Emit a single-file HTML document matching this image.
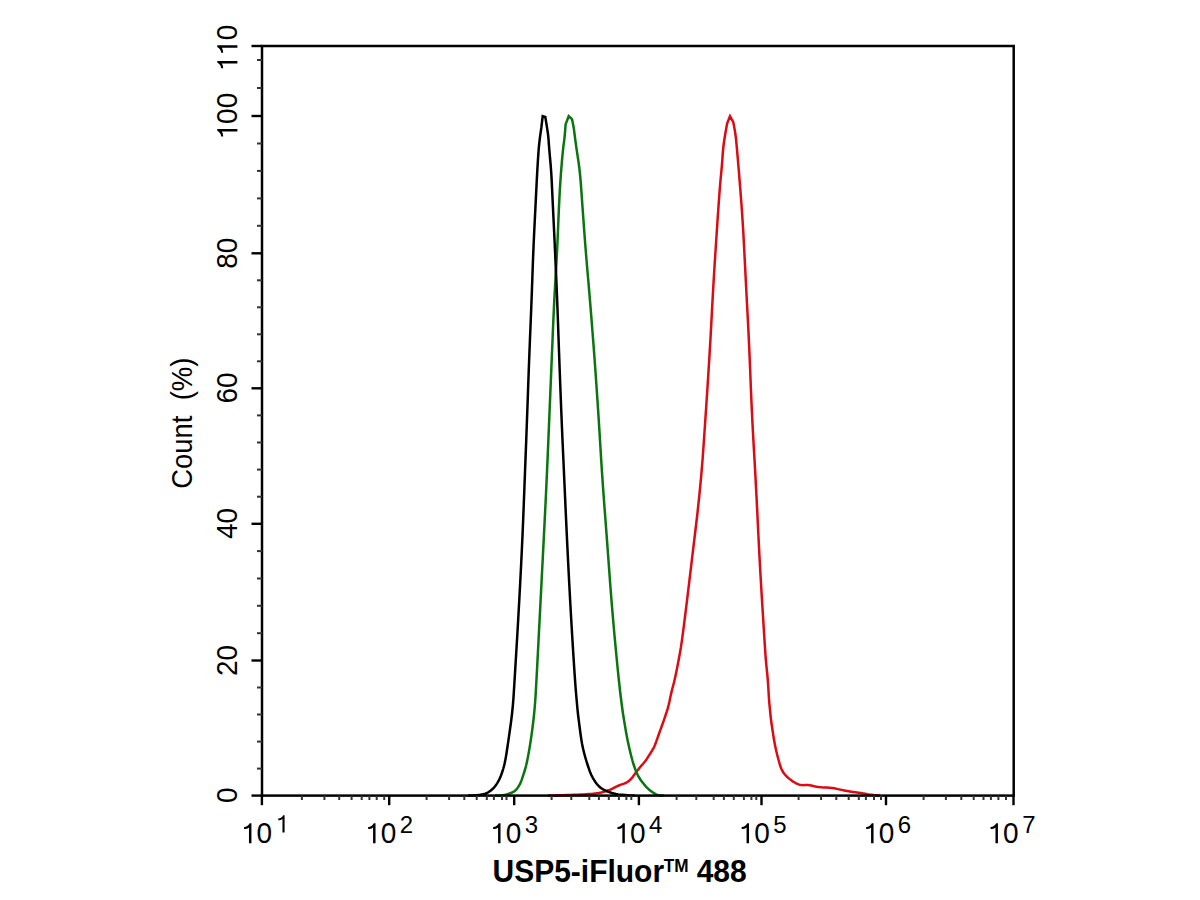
<!DOCTYPE html>
<html><head><meta charset="utf-8"><title>Flow cytometry histogram</title>
<style>html,body{margin:0;padding:0;background:#fff;width:1200px;height:900px;overflow:hidden;}svg{display:block;font-family:"Liberation Sans",sans-serif;}</style>
</head><body>
<svg width="1200" height="900" viewBox="0 0 1200 900" font-family="Liberation Sans, sans-serif" fill="#000"><path d="M548.00 795.60 L549.06 795.58 L551.19 795.52 L554.38 795.45 L558.62 795.35 L562.75 795.24 L566.75 795.11 L570.62 794.98 L574.38 794.83 L577.81 794.68 L580.94 794.54 L583.75 794.41 L586.25 794.29 L588.75 794.12 L591.25 793.91 L593.75 793.65 L596.25 793.35 L598.75 792.94 L601.25 792.41 L603.75 791.77 L606.25 791.02 L608.44 790.30 L610.31 789.60 L611.88 788.92 L613.12 788.27 L614.39 787.63 L615.66 786.99 L616.95 786.36 L618.25 785.74 L619.61 785.15 L621.04 784.60 L622.52 784.09 L624.07 783.61 L625.53 783.01 L626.89 782.29 L628.16 781.44 L629.34 780.46 L630.51 779.34 L631.69 778.08 L632.86 776.68 L634.04 775.12 L635.19 773.60 L636.31 772.10 L637.41 770.62 L638.49 769.18 L639.51 767.86 L640.47 766.69 L641.38 765.65 L642.22 764.75 L643.07 763.80 L643.91 762.80 L644.74 761.75 L645.56 760.65 L646.47 759.36 L647.47 757.87 L648.56 756.19 L649.74 754.31 L650.81 752.61 L651.77 751.07 L652.62 749.70 L653.38 748.50 L654.23 746.76 L655.17 744.49 L656.22 741.67 L657.38 738.33 L658.54 734.98 L659.73 731.64 L660.94 728.31 L662.16 724.99 L663.36 721.66 L664.52 718.34 L665.65 715.01 L666.75 711.69 L667.74 708.36 L668.63 705.02 L669.41 701.67 L670.09 698.33 L670.82 694.98 L671.61 691.64 L672.45 688.31 L673.35 684.99 L674.28 681.24 L675.23 677.08 L676.20 672.50 L677.20 667.50 L678.17 662.50 L679.11 657.50 L680.01 652.50 L680.89 647.50 L682.11 639.06 L683.69 627.19 L685.61 611.88 L687.89 593.12 L690.19 574.06 L692.51 554.69 L694.86 535.00 L697.24 515.00 L699.32 495.62 L701.12 476.88 L702.64 458.75 L703.86 441.25 L705.06 423.75 L706.24 406.25 L707.39 388.75 L708.51 371.25 L709.55 354.38 L710.50 338.12 L711.36 322.50 L712.14 307.50 L712.96 292.50 L713.84 277.50 L714.76 262.50 L715.74 247.50 L716.64 233.75 L717.48 221.25 L718.25 210.00 L718.95 200.00 L719.60 191.25 L720.20 183.75 L720.75 177.50 L721.25 172.50 L721.69 167.69 L722.08 163.06 L722.41 158.62 L722.69 154.38 L723.02 150.36 L723.41 146.57 L723.85 143.01 L724.35 139.69 L724.85 136.50 L725.35 133.45 L725.85 130.54 L726.35 127.76 L726.73 125.68 L726.98 124.29 L727.10 123.60 L727.10 123.60 L727.10 123.60 L727.10 123.60 L727.10 123.60 L730.00 116.20 L733.30 122.20 L733.44 122.98 L733.73 124.54 L734.16 126.89 L734.74 130.01 L735.25 133.19 L735.70 136.41 L736.09 139.69 L736.41 143.01 L736.85 147.82 L737.40 154.11 L738.06 161.88 L738.84 171.12 L739.61 180.56 L740.37 190.19 L741.12 200.00 L741.88 210.00 L742.62 221.25 L743.38 233.75 L744.12 247.50 L744.88 262.50 L745.64 277.50 L746.41 292.50 L747.20 307.50 L748.00 322.50 L748.77 338.12 L749.51 354.38 L750.21 371.25 L750.89 388.75 L751.65 406.25 L752.50 423.75 L753.44 441.25 L754.46 458.75 L755.47 476.88 L756.46 495.62 L757.43 515.00 L758.38 535.00 L759.40 555.00 L760.50 575.00 L761.67 595.00 L762.92 615.00 L763.92 630.94 L764.67 642.81 L765.17 650.62 L765.42 654.38 L765.74 658.44 L766.13 662.81 L766.59 667.50 L767.11 672.50 L767.58 677.50 L767.97 682.50 L768.31 687.50 L768.59 692.50 L768.86 696.88 L769.12 700.62 L769.38 703.75 L769.62 706.25 L769.88 708.75 L770.12 711.25 L770.38 713.75 L770.62 716.25 L770.91 718.75 L771.22 721.25 L771.56 723.75 L771.94 726.25 L772.31 728.75 L772.69 731.25 L773.06 733.75 L773.44 736.25 L773.84 738.75 L774.28 741.25 L774.75 743.75 L775.25 746.25 L775.78 748.75 L776.34 751.25 L776.94 753.75 L777.56 756.25 L778.22 758.75 L778.91 761.25 L779.62 763.75 L780.38 766.25 L781.22 768.50 L782.16 770.50 L783.19 772.25 L784.31 773.75 L785.53 775.19 L786.84 776.56 L788.25 777.88 L789.75 779.12 L791.25 780.28 L792.75 781.34 L794.25 782.31 L795.75 783.19 L797.19 783.89 L798.56 784.43 L799.88 784.80 L801.12 785.00 L802.36 785.12 L803.59 785.16 L804.80 785.11 L806.00 784.99 L807.65 785.06 L809.75 785.32 L812.30 785.77 L815.30 786.42 L818.25 786.92 L821.15 787.27 L824.00 787.48 L826.80 787.52 L829.46 787.69 L831.99 787.96 L834.38 788.35 L836.62 788.85 L839.02 789.36 L841.56 789.89 L844.24 790.43 L847.06 790.97 L849.88 791.48 L852.69 791.94 L855.50 792.36 L858.30 792.74 L860.87 793.11 L863.21 793.47 L865.31 793.83 L867.19 794.17 L869.22 794.49 L871.41 794.78 L873.75 795.04 L876.25 795.26 L878.12 795.43 L879.38 795.54 L880.00 795.60" fill="none" stroke="#dc0a12" stroke-width="2.50" stroke-linejoin="miter"/><path d="M495.00 795.60 L495.31 795.59 L495.94 795.56 L496.88 795.52 L498.12 795.48 L499.43 795.39 L500.77 795.28 L502.17 795.14 L503.63 794.96 L505.08 794.71 L506.54 794.39 L508.01 793.99 L509.49 793.51 L510.84 793.01 L512.06 792.49 L513.16 791.94 L514.14 791.36 L515.04 790.71 L515.86 789.99 L516.61 789.19 L517.29 788.31 L517.96 787.34 L518.64 786.28 L519.31 785.12 L519.99 783.88 L520.64 782.50 L521.26 781.00 L521.86 779.38 L522.44 777.62 L523.07 775.69 L523.76 773.56 L524.50 771.25 L525.30 768.75 L526.18 765.31 L527.14 760.94 L528.19 755.62 L529.31 749.38 L530.39 742.81 L531.41 735.94 L532.39 728.75 L533.31 721.25 L534.12 713.75 L534.81 706.25 L535.38 698.75 L535.83 691.25 L536.39 681.25 L537.06 668.75 L537.85 653.75 L538.75 636.25 L539.65 618.75 L540.55 601.25 L541.45 583.75 L542.35 566.25 L543.21 549.38 L544.04 533.12 L544.83 517.50 L545.58 502.50 L546.29 487.50 L546.98 472.50 L547.64 457.50 L548.26 442.50 L548.89 427.50 L549.51 412.50 L550.14 397.50 L550.76 382.50 L551.39 367.50 L552.01 352.50 L552.64 337.50 L553.26 322.50 L553.92 308.12 L554.61 294.38 L555.33 281.25 L556.08 268.75 L556.76 256.25 L557.39 243.75 L557.95 231.25 L558.45 218.75 L558.94 207.61 L559.41 197.82 L559.88 189.39 L560.33 182.31 L560.79 175.52 L561.28 169.02 L561.79 162.81 L562.31 156.89 L562.81 151.75 L563.27 147.40 L563.70 143.84 L564.10 141.06 L564.46 138.20 L564.77 135.25 L565.04 132.21 L565.26 129.09 L565.43 126.74 L565.54 125.18 L565.60 124.40 L565.60 124.40 L565.60 124.40 L565.60 124.40 L565.60 124.40 L568.70 116.20 L572.00 119.10 L573.80 128.00 L573.87 128.56 L574.01 129.67 L574.21 131.34 L574.49 133.56 L574.79 135.93 L575.11 138.43 L575.46 141.06 L575.84 143.84 L576.34 147.40 L576.98 151.75 L577.75 156.89 L578.65 162.81 L579.45 169.02 L580.15 175.52 L580.75 182.31 L581.25 189.39 L581.85 197.82 L582.55 207.61 L583.35 218.75 L584.25 231.25 L585.20 243.75 L586.20 256.25 L587.25 268.75 L588.35 281.25 L589.47 294.38 L590.61 308.12 L591.76 322.50 L592.94 337.50 L594.08 352.50 L595.18 367.50 L596.24 382.50 L597.26 397.50 L598.26 412.50 L599.22 427.50 L600.15 442.50 L601.05 457.50 L602.01 472.50 L603.04 487.50 L604.12 502.50 L605.28 517.50 L606.46 533.12 L607.67 549.38 L608.91 566.25 L610.19 583.75 L611.56 601.25 L613.02 618.75 L614.58 636.25 L616.23 653.75 L617.69 668.75 L618.98 681.25 L620.09 691.25 L621.01 698.75 L621.81 705.00 L622.47 710.00 L623.00 713.75 L623.40 716.25 L623.91 719.38 L624.54 723.12 L625.28 727.50 L626.12 732.50 L627.06 737.50 L628.07 742.50 L629.16 747.50 L630.34 752.50 L631.47 757.00 L632.56 761.00 L633.60 764.50 L634.60 767.50 L635.58 770.17 L636.52 772.51 L637.45 774.51 L638.35 776.19 L639.28 777.78 L640.23 779.28 L641.20 780.69 L642.20 782.01 L643.23 783.31 L644.28 784.59 L645.35 785.84 L646.45 787.06 L647.56 788.19 L648.67 789.21 L649.79 790.14 L650.91 790.96 L651.97 791.73 L652.96 792.44 L653.88 793.10 L654.72 793.70 L655.61 794.20 L656.54 794.60 L657.50 794.90 L658.50 795.10 L659.50 795.26 L660.50 795.39 L661.50 795.48 L662.50 795.52 L663.25 795.56 L663.75 795.59 L664.00 795.60" fill="none" stroke="#0a750f" stroke-width="2.50" stroke-linejoin="miter"/><path d="M468.00 795.60 L468.50 795.58 L469.50 795.54 L471.00 795.49 L473.00 795.41 L474.81 795.32 L476.44 795.21 L477.88 795.08 L479.12 794.92 L480.38 794.75 L481.62 794.55 L482.88 794.33 L484.12 794.08 L485.33 793.72 L486.49 793.26 L487.61 792.69 L488.69 792.01 L489.77 791.26 L490.86 790.42 L491.95 789.50 L493.05 788.50 L494.16 787.31 L495.29 785.94 L496.43 784.38 L497.57 782.62 L498.67 780.69 L499.71 778.56 L500.69 776.25 L501.61 773.75 L502.46 771.25 L503.24 768.75 L503.94 766.25 L504.56 763.75 L505.22 760.62 L505.91 756.88 L506.62 752.50 L507.38 747.50 L508.20 741.88 L509.10 735.62 L510.08 728.75 L511.12 721.25 L512.03 713.75 L512.79 706.25 L513.41 698.75 L513.89 691.25 L514.51 681.25 L515.27 668.75 L516.18 653.75 L517.23 636.25 L518.24 618.75 L519.21 601.25 L520.15 583.75 L521.05 566.25 L521.87 549.38 L522.61 533.12 L523.26 517.50 L523.84 502.50 L524.41 487.50 L524.99 472.50 L525.56 457.50 L526.14 442.50 L526.70 427.50 L527.25 412.50 L527.79 397.50 L528.31 382.50 L528.86 367.50 L529.44 352.50 L530.04 337.50 L530.66 322.50 L531.24 308.12 L531.76 294.38 L532.24 281.25 L532.66 268.75 L533.14 256.25 L533.66 243.75 L534.24 231.25 L534.86 218.75 L535.42 207.61 L535.91 197.82 L536.32 189.39 L536.68 182.31 L537.03 175.52 L537.39 169.02 L537.76 162.81 L538.14 156.89 L538.50 151.75 L538.85 147.40 L539.19 143.84 L539.51 141.06 L539.84 138.43 L540.16 135.93 L540.49 133.56 L540.81 131.34 L541.06 129.67 L541.22 128.56 L541.30 128.00 L541.30 128.00 L541.30 128.00 L541.30 128.00 L541.30 128.00 L542.70 116.20 L545.30 116.90 L547.10 128.00 L547.18 128.56 L547.34 129.67 L547.59 131.34 L547.91 133.56 L548.20 135.93 L548.45 138.43 L548.66 141.06 L548.84 143.84 L549.11 147.40 L549.47 151.75 L549.93 156.89 L550.48 162.81 L550.97 169.02 L551.41 175.52 L551.79 182.31 L552.11 189.39 L552.51 197.82 L552.97 207.61 L553.50 218.75 L554.10 231.25 L554.69 243.75 L555.26 256.25 L555.83 268.75 L556.38 281.25 L556.92 294.38 L557.46 308.12 L557.99 322.50 L558.51 337.50 L559.05 352.50 L559.60 367.50 L560.16 382.50 L560.74 397.50 L561.34 412.50 L561.96 427.50 L562.61 442.50 L563.29 457.50 L563.96 472.50 L564.64 487.50 L565.31 502.50 L565.99 517.50 L566.72 533.12 L567.51 549.38 L568.35 566.25 L569.25 583.75 L570.19 601.25 L571.18 618.75 L572.21 636.25 L573.29 653.75 L574.26 668.75 L575.12 681.25 L575.88 691.25 L576.53 698.75 L577.09 705.00 L577.56 710.00 L577.95 713.75 L578.25 716.25 L578.64 719.38 L579.11 723.12 L579.68 727.50 L580.32 732.50 L580.94 736.88 L581.51 740.62 L582.05 743.75 L582.55 746.25 L583.09 748.75 L583.68 751.25 L584.31 753.75 L584.99 756.25 L585.70 758.75 L586.45 761.25 L587.24 763.75 L588.06 766.25 L588.80 768.44 L589.45 770.31 L590.01 771.88 L590.49 773.12 L591.08 774.48 L591.79 775.94 L592.62 777.51 L593.58 779.19 L594.60 780.82 L595.70 782.41 L596.88 783.95 L598.12 785.45 L599.48 786.80 L600.94 788.00 L602.51 789.05 L604.19 789.95 L605.96 790.79 L607.84 791.58 L609.81 792.31 L611.89 792.99 L613.96 793.56 L616.04 794.02 L618.11 794.38 L620.19 794.62 L622.47 794.85 L624.97 795.05 L627.69 795.22 L630.61 795.38 L632.81 795.49 L634.27 795.56 L635.00 795.60" fill="none" stroke="#000000" stroke-width="2.50" stroke-linejoin="miter"/><rect x="262.0" y="46.0" width="751.7" height="749.6" fill="none" stroke="#000" stroke-width="2.5"/><line x1="251.5" y1="795.6" x2="262.0" y2="795.6" stroke="#000" stroke-width="2.4"/><line x1="251.5" y1="660.5" x2="262.0" y2="660.5" stroke="#000" stroke-width="2.4"/><line x1="251.5" y1="523.8" x2="262.0" y2="523.8" stroke="#000" stroke-width="2.4"/><line x1="251.5" y1="388.3" x2="262.0" y2="388.3" stroke="#000" stroke-width="2.4"/><line x1="251.5" y1="253.3" x2="262.0" y2="253.3" stroke="#000" stroke-width="2.4"/><line x1="251.5" y1="116.0" x2="262.0" y2="116.0" stroke="#000" stroke-width="2.4"/><line x1="251.5" y1="46.0" x2="262.0" y2="46.0" stroke="#000" stroke-width="2.4"/><line x1="257" y1="768.6" x2="262.0" y2="768.6" stroke="#333" stroke-width="2"/><line x1="257" y1="741.6" x2="262.0" y2="741.6" stroke="#333" stroke-width="2"/><line x1="257" y1="714.5" x2="262.0" y2="714.5" stroke="#333" stroke-width="2"/><line x1="257" y1="687.5" x2="262.0" y2="687.5" stroke="#333" stroke-width="2"/><line x1="257" y1="633.2" x2="262.0" y2="633.2" stroke="#333" stroke-width="2"/><line x1="257" y1="605.8" x2="262.0" y2="605.8" stroke="#333" stroke-width="2"/><line x1="257" y1="578.5" x2="262.0" y2="578.5" stroke="#333" stroke-width="2"/><line x1="257" y1="551.1" x2="262.0" y2="551.1" stroke="#333" stroke-width="2"/><line x1="257" y1="496.7" x2="262.0" y2="496.7" stroke="#333" stroke-width="2"/><line x1="257" y1="469.6" x2="262.0" y2="469.6" stroke="#333" stroke-width="2"/><line x1="257" y1="442.5" x2="262.0" y2="442.5" stroke="#333" stroke-width="2"/><line x1="257" y1="415.4" x2="262.0" y2="415.4" stroke="#333" stroke-width="2"/><line x1="257" y1="361.3" x2="262.0" y2="361.3" stroke="#333" stroke-width="2"/><line x1="257" y1="334.3" x2="262.0" y2="334.3" stroke="#333" stroke-width="2"/><line x1="257" y1="307.3" x2="262.0" y2="307.3" stroke="#333" stroke-width="2"/><line x1="257" y1="280.3" x2="262.0" y2="280.3" stroke="#333" stroke-width="2"/><line x1="257" y1="225.8" x2="262.0" y2="225.8" stroke="#333" stroke-width="2"/><line x1="257" y1="198.4" x2="262.0" y2="198.4" stroke="#333" stroke-width="2"/><line x1="257" y1="170.9" x2="262.0" y2="170.9" stroke="#333" stroke-width="2"/><line x1="257" y1="143.5" x2="262.0" y2="143.5" stroke="#333" stroke-width="2"/><line x1="257" y1="88.0" x2="262.0" y2="88.0" stroke="#333" stroke-width="2"/><line x1="257" y1="60.0" x2="262.0" y2="60.0" stroke="#333" stroke-width="2"/><line x1="261.9" y1="795.6" x2="261.9" y2="805.2" stroke="#000" stroke-width="2.4"/><line x1="389.2" y1="795.6" x2="389.2" y2="805.2" stroke="#000" stroke-width="2.4"/><line x1="514.2" y1="795.6" x2="514.2" y2="805.2" stroke="#000" stroke-width="2.4"/><line x1="638.9" y1="795.6" x2="638.9" y2="805.2" stroke="#000" stroke-width="2.4"/><line x1="761.5" y1="795.6" x2="761.5" y2="805.2" stroke="#000" stroke-width="2.4"/><line x1="886.0" y1="795.6" x2="886.0" y2="805.2" stroke="#000" stroke-width="2.4"/><line x1="1013.5" y1="795.6" x2="1013.5" y2="805.2" stroke="#000" stroke-width="2.4"/><line x1="301.9" y1="795.6" x2="301.9" y2="800" stroke="#333" stroke-width="2"/><line x1="324.4" y1="795.6" x2="324.4" y2="800" stroke="#333" stroke-width="2"/><line x1="339.2" y1="795.6" x2="339.2" y2="800" stroke="#333" stroke-width="2"/><line x1="351.6" y1="795.6" x2="351.6" y2="800" stroke="#333" stroke-width="2"/><line x1="361.7" y1="795.6" x2="361.7" y2="800" stroke="#333" stroke-width="2"/><line x1="369.4" y1="795.6" x2="369.4" y2="800" stroke="#333" stroke-width="2"/><line x1="376.7" y1="795.6" x2="376.7" y2="800" stroke="#333" stroke-width="2"/><line x1="384.2" y1="795.6" x2="384.2" y2="800" stroke="#333" stroke-width="2"/><line x1="426.6" y1="795.6" x2="426.6" y2="800" stroke="#333" stroke-width="2"/><line x1="449.1" y1="795.6" x2="449.1" y2="800" stroke="#333" stroke-width="2"/><line x1="464.3" y1="795.6" x2="464.3" y2="800" stroke="#333" stroke-width="2"/><line x1="476.7" y1="795.6" x2="476.7" y2="800" stroke="#333" stroke-width="2"/><line x1="486.8" y1="795.6" x2="486.8" y2="800" stroke="#333" stroke-width="2"/><line x1="493.9" y1="795.6" x2="493.9" y2="800" stroke="#333" stroke-width="2"/><line x1="502.0" y1="795.6" x2="502.0" y2="800" stroke="#333" stroke-width="2"/><line x1="506.5" y1="795.6" x2="506.5" y2="800" stroke="#333" stroke-width="2"/><line x1="551.6" y1="795.6" x2="551.6" y2="800" stroke="#333" stroke-width="2"/><line x1="571.3" y1="795.6" x2="571.3" y2="800" stroke="#333" stroke-width="2"/><line x1="589.3" y1="795.6" x2="589.3" y2="800" stroke="#333" stroke-width="2"/><line x1="598.9" y1="795.6" x2="598.9" y2="800" stroke="#333" stroke-width="2"/><line x1="608.8" y1="795.6" x2="608.8" y2="800" stroke="#333" stroke-width="2"/><line x1="618.9" y1="795.6" x2="618.9" y2="800" stroke="#333" stroke-width="2"/><line x1="626.4" y1="795.6" x2="626.4" y2="800" stroke="#333" stroke-width="2"/><line x1="631.3" y1="795.6" x2="631.3" y2="800" stroke="#333" stroke-width="2"/><line x1="676.6" y1="795.6" x2="676.6" y2="800" stroke="#333" stroke-width="2"/><line x1="696.3" y1="795.6" x2="696.3" y2="800" stroke="#333" stroke-width="2"/><line x1="713.7" y1="795.6" x2="713.7" y2="800" stroke="#333" stroke-width="2"/><line x1="723.9" y1="795.6" x2="723.9" y2="800" stroke="#333" stroke-width="2"/><line x1="733.8" y1="795.6" x2="733.8" y2="800" stroke="#333" stroke-width="2"/><line x1="743.9" y1="795.6" x2="743.9" y2="800" stroke="#333" stroke-width="2"/><line x1="751.4" y1="795.6" x2="751.4" y2="800" stroke="#333" stroke-width="2"/><line x1="756.3" y1="795.6" x2="756.3" y2="800" stroke="#333" stroke-width="2"/><line x1="798.6" y1="795.6" x2="798.6" y2="800" stroke="#333" stroke-width="2"/><line x1="821.1" y1="795.6" x2="821.1" y2="800" stroke="#333" stroke-width="2"/><line x1="836.3" y1="795.6" x2="836.3" y2="800" stroke="#333" stroke-width="2"/><line x1="848.7" y1="795.6" x2="848.7" y2="800" stroke="#333" stroke-width="2"/><line x1="858.8" y1="795.6" x2="858.8" y2="800" stroke="#333" stroke-width="2"/><line x1="865.9" y1="795.6" x2="865.9" y2="800" stroke="#333" stroke-width="2"/><line x1="874.0" y1="795.6" x2="874.0" y2="800" stroke="#333" stroke-width="2"/><line x1="881.0" y1="795.6" x2="881.0" y2="800" stroke="#333" stroke-width="2"/><line x1="923.6" y1="795.6" x2="923.6" y2="800" stroke="#333" stroke-width="2"/><line x1="945.9" y1="795.6" x2="945.9" y2="800" stroke="#333" stroke-width="2"/><line x1="961.3" y1="795.6" x2="961.3" y2="800" stroke="#333" stroke-width="2"/><line x1="973.7" y1="795.6" x2="973.7" y2="800" stroke="#333" stroke-width="2"/><line x1="983.5" y1="795.6" x2="983.5" y2="800" stroke="#333" stroke-width="2"/><line x1="990.9" y1="795.6" x2="990.9" y2="800" stroke="#333" stroke-width="2"/><line x1="998.4" y1="795.6" x2="998.4" y2="800" stroke="#333" stroke-width="2"/><line x1="1006.0" y1="795.6" x2="1006.0" y2="800" stroke="#333" stroke-width="2"/><g transform="translate(237.4 795.30) rotate(-90)"><text transform="translate(-7.79 0.00) scale(1 1.035)" font-size="28.0">0</text></g><g transform="translate(237.4 660.50) rotate(-90)"><text transform="translate(-15.57 0.00) scale(1 1.035)" font-size="28.0">2</text><text transform="translate(0.00 0.00) scale(1 1.035)" font-size="28.0">0</text></g><g transform="translate(237.4 523.40) rotate(-90)"><text transform="translate(-15.57 0.00) scale(1 1.035)" font-size="28.0">4</text><text transform="translate(0.00 0.00) scale(1 1.035)" font-size="28.0">0</text></g><g transform="translate(237.4 388.00) rotate(-90)"><text transform="translate(-15.57 0.00) scale(1 1.035)" font-size="28.0">6</text><text transform="translate(0.00 0.00) scale(1 1.035)" font-size="28.0">0</text></g><g transform="translate(237.4 253.30) rotate(-90)"><text transform="translate(-15.57 0.00) scale(1 1.035)" font-size="28.0">8</text><text transform="translate(0.00 0.00) scale(1 1.035)" font-size="28.0">0</text></g><g transform="translate(237.4 116.10) rotate(-90)"><path d="M763 0L583 0L583 1150Q520 1095 430 1070Q330 1045 224 1040L224 1186Q370 1195 480 1280Q590 1370 640 1472L763 1472Z" transform="translate(-23.36 0.00) scale(0.01367 -0.01367)"/><text transform="translate(-7.79 0.00) scale(1 1.035)" font-size="28.0">0</text><text transform="translate(7.79 0.00) scale(1 1.035)" font-size="28.0">0</text></g><g transform="translate(237.4 48.00) rotate(-90)"><path d="M763 0L583 0L583 1150Q520 1095 430 1070Q330 1045 224 1040L224 1186Q370 1195 480 1280Q590 1370 640 1472L763 1472Z" transform="translate(-23.36 0.00) scale(0.01367 -0.01367)"/><path d="M763 0L583 0L583 1150Q520 1095 430 1070Q330 1045 224 1040L224 1186Q370 1195 480 1280Q590 1370 640 1472L763 1472Z" transform="translate(-7.79 0.00) scale(0.01367 -0.01367)"/><text transform="translate(7.79 0.00) scale(1 1.035)" font-size="28.0">0</text></g><path d="M763 0L583 0L583 1150Q520 1095 430 1070Q330 1045 224 1040L224 1186Q370 1195 480 1280Q590 1370 640 1472L763 1472Z" transform="translate(241.00 843.30) scale(0.01367 -0.01367)"/><text transform="translate(256.57 843.30) scale(1 1.035)" font-size="28.0">0</text><path d="M763 0L583 0L583 1150Q520 1095 430 1070Q330 1045 224 1040L224 1186Q370 1195 480 1280Q590 1370 640 1472L763 1472Z" transform="translate(275.64 832.50) scale(0.01172 -0.01172)"/><path d="M763 0L583 0L583 1150Q520 1095 430 1070Q330 1045 224 1040L224 1186Q370 1195 480 1280Q590 1370 640 1472L763 1472Z" transform="translate(365.10 843.30) scale(0.01367 -0.01367)"/><text transform="translate(380.67 843.30) scale(1 1.035)" font-size="28.0">0</text><text transform="translate(399.74 832.50) scale(1 1.035)" font-size="24.0">2</text><path d="M763 0L583 0L583 1150Q520 1095 430 1070Q330 1045 224 1040L224 1186Q370 1195 480 1280Q590 1370 640 1472L763 1472Z" transform="translate(490.10 843.30) scale(0.01367 -0.01367)"/><text transform="translate(505.67 843.30) scale(1 1.035)" font-size="28.0">0</text><text transform="translate(524.74 832.50) scale(1 1.035)" font-size="24.0">3</text><path d="M763 0L583 0L583 1150Q520 1095 430 1070Q330 1045 224 1040L224 1186Q370 1195 480 1280Q590 1370 640 1472L763 1472Z" transform="translate(614.40 843.30) scale(0.01367 -0.01367)"/><text transform="translate(629.97 843.30) scale(1 1.035)" font-size="28.0">0</text><text transform="translate(649.04 832.50) scale(1 1.035)" font-size="24.0">4</text><path d="M763 0L583 0L583 1150Q520 1095 430 1070Q330 1045 224 1040L224 1186Q370 1195 480 1280Q590 1370 640 1472L763 1472Z" transform="translate(738.60 843.30) scale(0.01367 -0.01367)"/><text transform="translate(754.17 843.30) scale(1 1.035)" font-size="28.0">0</text><text transform="translate(773.24 832.50) scale(1 1.035)" font-size="24.0">5</text><path d="M763 0L583 0L583 1150Q520 1095 430 1070Q330 1045 224 1040L224 1186Q370 1195 480 1280Q590 1370 640 1472L763 1472Z" transform="translate(863.10 843.30) scale(0.01367 -0.01367)"/><text transform="translate(878.67 843.30) scale(1 1.035)" font-size="28.0">0</text><text transform="translate(897.74 832.50) scale(1 1.035)" font-size="24.0">6</text><path d="M763 0L583 0L583 1150Q520 1095 430 1070Q330 1045 224 1040L224 1186Q370 1195 480 1280Q590 1370 640 1472L763 1472Z" transform="translate(987.50 843.30) scale(0.01367 -0.01367)"/><text transform="translate(1003.07 843.30) scale(1 1.035)" font-size="28.0">0</text><text transform="translate(1022.14 832.50) scale(1 1.035)" font-size="24.0">7</text><text transform="translate(192.2 423.2) rotate(-90) scale(0.98 1.035)" text-anchor="middle" font-size="28" xml:space="preserve">Count  (%)</text><text transform="translate(492.5 882) scale(1 1.04)" font-size="30" font-weight="bold">USP5-iFluor</text><text transform="translate(663.8 871.5) scale(1 1.04)" font-size="17.2" font-weight="bold">TM</text><text transform="translate(688.3 882) scale(1 1.04)" font-size="30" font-weight="bold" xml:space="preserve"> 488</text></svg>
</body></html>
